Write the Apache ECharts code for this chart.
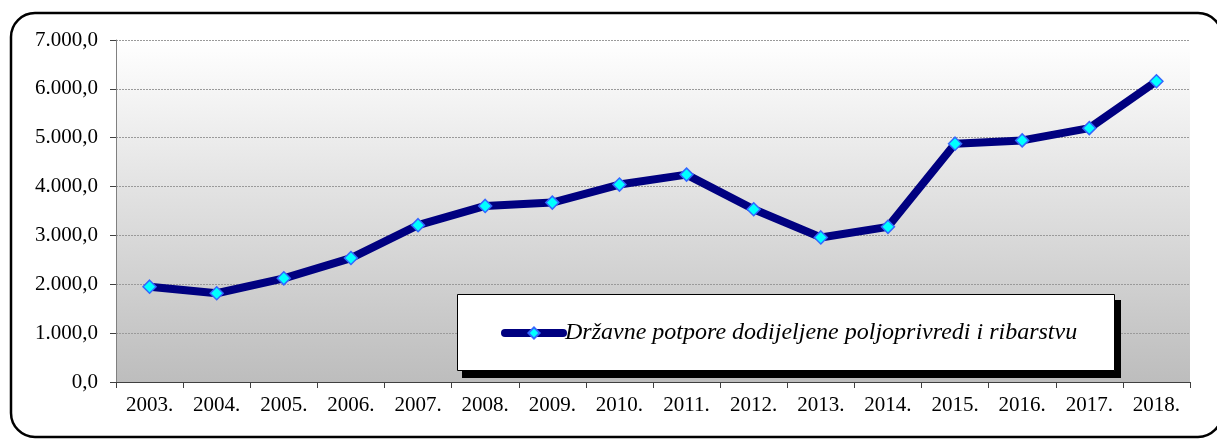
<!DOCTYPE html>
<html>
<head>
<meta charset="utf-8">
<script src="https://cdn.jsdelivr.net/npm/echarts@6/dist/echarts.min.js"></script>
<style>
  html, body { margin: 0; padding: 0; background: #fff; }
  #main { width: 1217px; height: 439px; }
</style>
</head>
<body>
<div id="main"></div>
<script>
// podaci
var years = ["2003.", "2004.", "2005.", "2006.", "2007.", "2008.", "2009.", "2010.",
             "2011.", "2012.", "2013.", "2014.", "2015.", "2016.", "2017.", "2018."];
var potpore = [1951, 1816, 2122, 2537, 3210, 3604, 3672, 4041,
               4245, 3537, 2959, 3176, 4878, 4945, 5196, 6155];
var yTickLabels = ["0,0", "1.000,0", "2.000,0", "3.000,0", "4.000,0", "5.000,0", "6.000,0", "7.000,0"];
var seriesName = "Državne potpore dodijeljene poljoprivredi i ribarstvu";

var myChart = echarts.init(document.getElementById("main"));
var font = "'Liberation Serif', 'Times New Roman', serif";

var option = {
  animation: false,
  textStyle: { fontFamily: font },
  grid: {
    left: 116,
    right: 27,
    top: 40,
    bottom: 57,
    show: true,
    borderWidth: 0,
    backgroundColor: new echarts.graphic.LinearGradient(0, 0, 0, 1, [
      { offset: 0, color: "#ffffff" },
      { offset: 1, color: "#bdbdbd" }
    ])
  },
  graphic: [
    // okvir oko cijelog grafa
    {
      type: "rect",
      shape: { x: 11, y: 13, width: 1211, height: 424, r: 24 },
      style: { fill: "none", stroke: "#000", lineWidth: 2.5 },
      z: 10
    },
    // sjena legende
    {
      type: "rect",
      shape: { x: 462, y: 300, width: 659, height: 78 },
      style: { fill: "#000" },
      z: 5
    },
    // okvir legende
    {
      type: "rect",
      shape: { x: 457.5, y: 294.5, width: 657, height: 76 },
      style: { fill: "#fff", stroke: "#000", lineWidth: 1 },
      z: 6
    }
  ],
  legend: {
    left: 501,
    top: 321,
    padding: 0,
    z: 12,
    itemWidth: 58,
    itemHeight: 14,
    itemGap: 0,
    lineStyle: { width: 8, cap: "round" },
    textStyle: {
      fontFamily: font,
      fontStyle: "italic",
      fontSize: 24,
      color: "#000",
      padding: [0, 0, 0, -3]
    },
    data: [seriesName]
  },
  xAxis: {
    type: "category",
    data: years,
    boundaryGap: true,
    axisLine: { lineStyle: { color: "#404040", width: 1 } },
    axisTick: { show: true, length: 6, lineStyle: { color: "#404040" } },
    axisLabel: { color: "#000", fontSize: 21, fontFamily: font, margin: 13, interval: 0 },
    splitLine: { show: false }
  },
  yAxis: {
    type: "value",
    min: 0,
    max: 7000,
    interval: 1000,
    axisLine: { show: true, lineStyle: { color: "#808080", width: 1 } },
    axisTick: { show: true, length: 6, lineStyle: { color: "#404040" } },
    axisLabel: {
      color: "#000",
      fontSize: 21,
      fontFamily: font,
      margin: 18,
      formatter: function (v) { return yTickLabels[Math.round(v / 1000)]; }
    },
    splitLine: { show: true, lineStyle: { color: "#9a9a9a", type: [2, 1], width: 1 } }
  },
  series: [
    {
      name: seriesName,
      type: "line",
      data: potpore,
      symbol: "diamond",
      symbolSize: 13,
      lineStyle: { color: "#000080", width: 8 },
      itemStyle: { color: "#00ffff", borderColor: "#3366ff", borderWidth: 1.5 },
      z: 3
    }
  ]
};
myChart.setOption(option);
</script>
</body>
</html>
